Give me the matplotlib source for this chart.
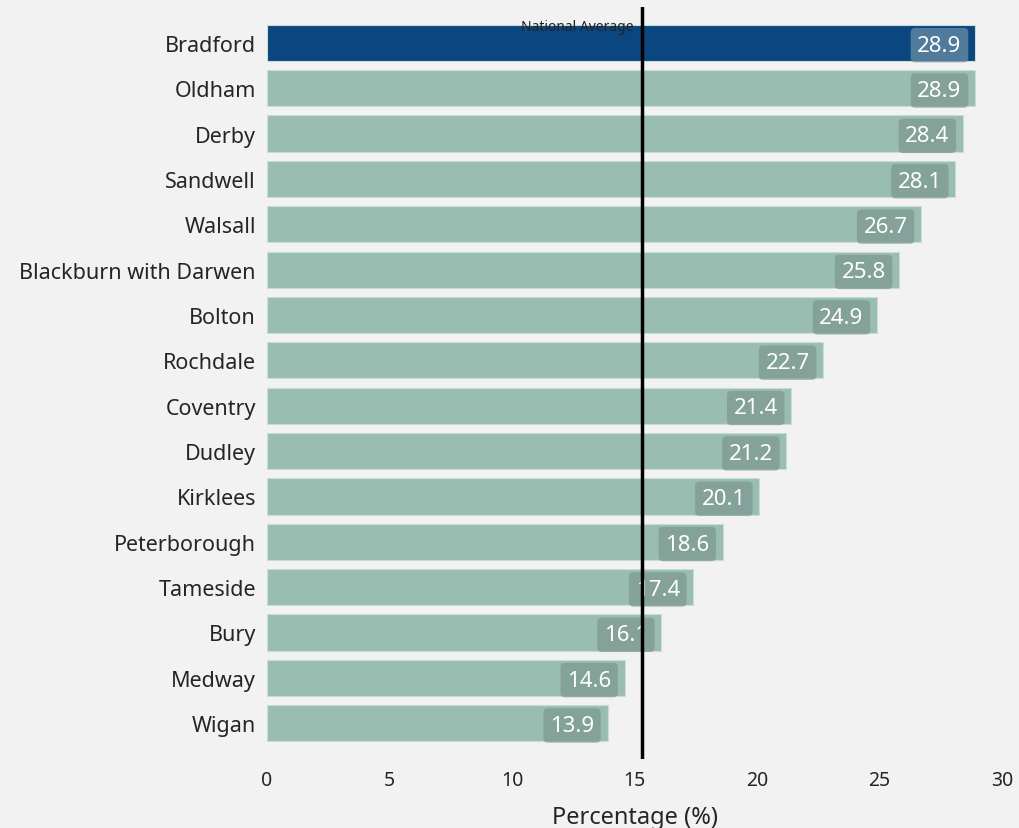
import matplotlib.pyplot as plt
import numpy as np

areas = ["Bradford", "Oldham", "Derby", "Sandwell", "Walsall",
         "Blackburn with Darwen", "Bolton", "Rochdale", "Coventry", "Dudley",
         "Kirklees", "Peterborough", "Tameside", "Bury", "Medway", "Wigan"]
values = [28.9, 28.9, 28.4, 28.1, 26.7, 25.8, 24.9, 22.7, 21.4, 21.2,
          20.1, 18.6, 17.4, 16.1, 14.6, 13.9]
national_avg = 15.3
highlight = "Bradford"

plt.rcParams['font.family'] = ['Noto Sans', 'DejaVu Sans']
bg = '#f2f2f2'

fig = plt.figure(figsize=(10.2, 8.29), dpi=100, facecolor=bg)
ax = fig.add_axes([0.2618, 0.0832, 0.7206, 0.9071], facecolor=bg)

y = np.arange(len(areas))
colors = ['#0b4680' if a == highlight else '#9abdb2' for a in areas]
ax.barh(y, values, height=0.8, color=colors, edgecolor='#c8ddd6', linewidth=0.8, zorder=1)

for yi, v, a in zip(y, values, areas):
    box_col = '#6b8ca3' if a == highlight else '#7f9a92'
    ax.text(v - 0.55, yi + 0.05, f"{v:.1f}", ha='right', va='center',
            fontsize=16, color='white', zorder=3,
            bbox=dict(boxstyle='round,pad=0.3,rounding_size=0.2',
                      fc=box_col, ec='none', alpha=0.75))

ax.axvline(national_avg, color='black', linewidth=2.5, zorder=4)
ax.text(national_avg - 0.35, -0.35, "National Average", ha='right', va='center',
        fontsize=10, color='#222222', zorder=5)

ax.set_xlim(0, 30)
ax.set_ylim(len(areas) - 1 + 0.79, -0.79)
ax.set_yticks(y)
ax.set_yticklabels(areas, fontsize=15.5, color='#252525')
ax.set_xticks([0, 5, 10, 15, 20, 25, 30])
ax.tick_params(axis='x', labelsize=14, colors='#252525', length=0, pad=8)
ax.tick_params(axis='y', length=0, pad=8)
ax.set_xlabel("Percentage (%)", fontsize=17, color='#252525', labelpad=11)
for s in ax.spines.values():
    s.set_visible(False)

fig.savefig('out.png', dpi=100, facecolor=bg)
